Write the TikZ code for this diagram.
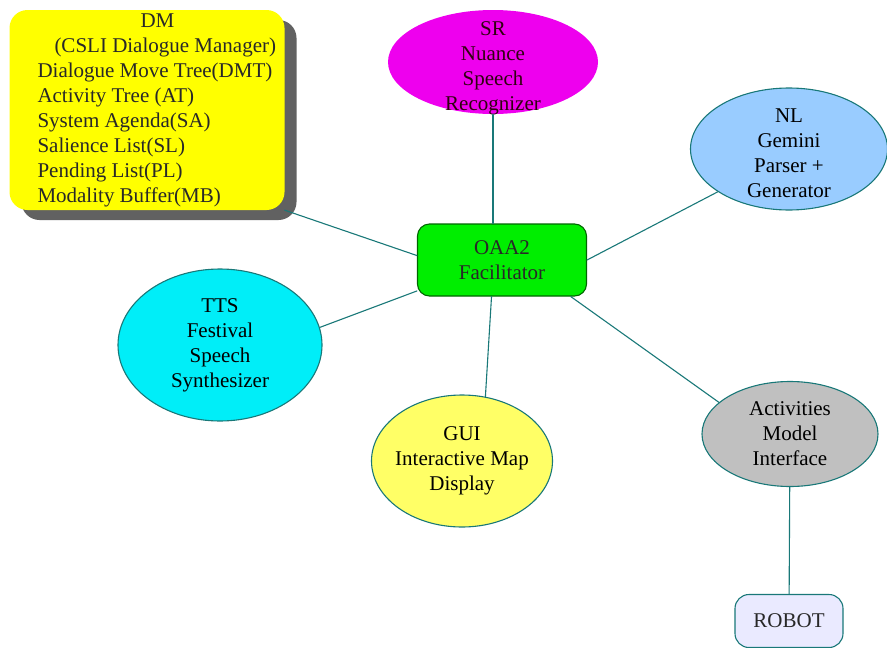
\documentclass[tikz,border=0pt]{standalone}
\usepackage{fontspec}
\setmainfont{Liberation Serif}
\usetikzlibrary{shapes.geometric,shadows}
\definecolor{dmyellow}{RGB}{255,255,0}
\definecolor{srpink}{RGB}{238,0,238}
\definecolor{nlblue}{RGB}{153,204,255}
\definecolor{oaagreen}{RGB}{0,238,0}
\definecolor{ttscyan}{RGB}{0,238,248}
\definecolor{guiyellow}{RGB}{255,255,102}
\definecolor{actgray}{RGB}{192,192,192}
\definecolor{robotlilac}{RGB}{234,234,255}
\definecolor{edge}{RGB}{25,120,120}
\definecolor{ink}{RGB}{40,40,40}
\begin{document}
\begin{tikzpicture}[x=1pt, y=-1pt, font=\fontsize{21}{25}\selectfont, line join=round, line cap=round,
		blob/.style={ellipse, draw=edge, line width=1.1pt, inner sep=0pt, text=ink},
		agent/.style={rectangle, draw=edge, line width=1.1pt, rounded corners=12pt, inner sep=0pt, text=ink, align=center},
		link/.style={draw=edge, line width=1.1pt}]
	\useasboundingbox (0,0) rectangle (887,648);
	\path (147,110) node[rectangle, rounded corners=18pt, fill=dmyellow, minimum width=275pt, minimum height=200pt,
			inner sep=0pt, text=ink, drop shadow={shadow xshift=12pt, shadow yshift=-10pt, fill=black!62, opacity=1}] (dm)
		{\hspace*{21pt}\begin{tabular}{@{}l@{}}
			\makebox[240pt][c]{DM}\\ \hspace*{17pt}(CSLI Dialogue Manager)\\ Dialogue Move Tree(DMT)\\ Activity Tree (AT)\\
			System Agenda(SA)\\ Salience List(SL)\\ Pending List(PL)\\ Modality Buffer(MB)
		\end{tabular}}
		(493,62) node[blob, draw=none, fill=srpink, minimum width=210pt, minimum height=104pt,
			label={[align=center, yshift=-6pt, text=black!75!purple]center:{SR\\Nuance\\Speech\\Recognizer}}] (sr) {}
		(789,149) node[blob, fill=nlblue, minimum width=197pt, minimum height=122pt,
			label={[align=center, yshift=-4pt]center:{NL\\Gemini\\Parser +\\Generator}}] (nl) {}
		(502,260) node[agent, draw=black!60!green, fill=oaagreen, minimum width=169pt, minimum height=72pt] (oaa) {OAA2\\Facilitator}
		(220,345) node[blob, fill=ttscyan, minimum width=204pt, minimum height=152pt,
			label={[align=center]center:{TTS\\Festival\\Speech\\Synthesizer}}] (tts) {}
		(462,461) node[blob, fill=guiyellow, minimum width=181pt, minimum height=132pt,
			label={[align=center]center:{GUI\\Interactive Map\\Display}}] (gui) {}
		(790,434) node[blob, fill=actgray, minimum width=176pt, minimum height=105pt,
			label={[align=center]center:{Activities\\Model\\Interface}}] (act) {}
		(789,621) node[agent, rounded corners=14pt, fill=robotlilac, minimum width=108pt, minimum height=53pt] (robot) {ROBOT}
		;
	\draw[link] (sr) -- (sr |- oaa.north);
	\foreach \p/\q in {dm.south east/oaa.177, nl.211/oaa.east, tts.10/oaa.200, gui.70/oaa.-106, act.156/oaa.-28, act/robot}{
		\draw[link] (\p) -- (\q);}
\end{tikzpicture}
\end{document}
